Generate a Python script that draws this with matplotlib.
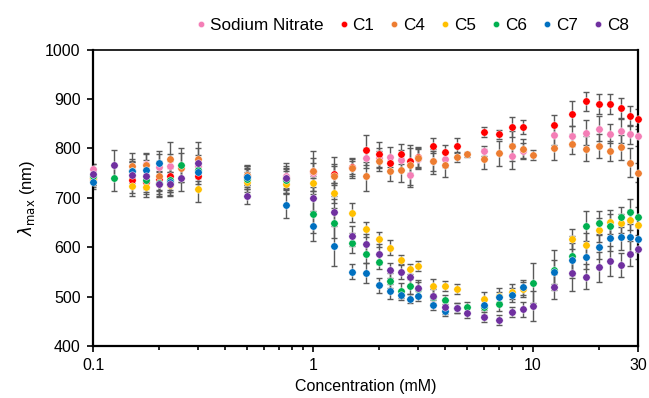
import numpy as np
import matplotlib
matplotlib.use('Agg')
import matplotlib.pyplot as plt
from matplotlib.ticker import LogLocator, FixedLocator, NullFormatter

plt.rcParams['font.family'] = ['Liberation Sans', 'DejaVu Sans']

n = np.nan
conc = [0.1, 0.125, 0.15, 0.175, 0.2, 0.225, 0.25, 0.3, 0.5, 0.75,
        1.0, 1.25, 1.5, 1.75, 2.0, 2.25, 2.5, 2.75, 3.0, 3.5,
        4.0, 4.5, 5.0, 6.0, 7.0, 8.0, 9.0, 10.0, 12.5, 15.0,
        17.5, 20.0, 22.5, 25.0, 27.5, 30.0]

sodium_nitrate = [758, n, 757, 768, 763, 764, n, 765, 745, 745,
                  751, 745, 760, 781, 780, 783, 776, 746, 778, 775,
                  778, n, n, 795, n, 784, 795, n, 826, 825,
                  832, 840, 830, 835, 828, 825]
c1 = [740, n, 735, 732, 738, 745, n, 743, 745, 738,
      755, 749, 763, 797, 788, 770, 788, 775, 782, 805,
      792, 805, n, 833, 828, 843, 843, n, 848, 870,
      895, 890, 890, 882, 866, 860]
c4 = [736, n, 765, 766, 745, 778, 761, 778, 747, 740,
      754, 743, 760, 743, 774, 754, 756, 766, 780, 774,
      766, 783, 788, 778, 790, 805, 798, 786, 801, 808,
      799, 805, 795, 802, 771, 751]
c5 = [740, n, 724, 721, 727, 725, n, 717, 732, 727,
      729, 709, 670, 636, 616, 599, 574, 556, 562, 521,
      521, 515, n, 495, 502, 510, 515, n, n, 616,
      604, 635, 651, 648, 655, 644]
c6 = [745, 739, 754, 736, 729, 736, 766, 757, 738, 735,
      668, 649, 608, 587, 570, 532, 512, 521, 515, 500,
      494, n, 479, 478, 485, n, n, 527, 554, 583,
      643, 649, 643, 661, 672, 662]
c7 = [732, n, 755, 757, 770, 732, n, 753, 741, 685,
      643, 602, 550, 547, 523, 511, 504, 496, 501, 483,
      471, 476, n, 483, 500, 503, 519, n, 550, 573,
      580, 601, 618, 620, 620, 616]
c8 = [749, 767, 747, 743, 727, 728, 739, 770, 703, 740,
      700, 672, 622, 606, 586, 553, 550, 539, 518, 502,
      479, 477, 466, 459, 452, 468, 474, 481, 520, 547,
      540, 560, 572, 564, 587, 596]

# error bar half widths (nm)
err_sn = [10, n, 15, 20, 25, 25, n, 15, 20, 20,
          30, 20, 15, 20, 20, 20, 20, 25, 20, 20,
          15, n, n, 10, n, 25, 15, n, 20, 20,
          25, 25, 20, 25, 20, 20]
err_c1 = [15, n, 25, 25, 25, 30, n, 25, 20, 20,
          15, 20, 15, 30, 25, 15, 20, 25, 20, 15,
          15, 15, n, 10, 10, 20, 15, n, 20, 25,
          20, 20, 20, 20, 20, 20]
err_c4 = [15, n, 25, 25, 30, 35, 30, 35, 20, 20,
          40, 40, 20, 30, 20, 20, 25, 40, 20, 25,
          25, 10, 5, 20, 25, 30, 20, 10, 25, 20,
          25, 25, 20, 25, 30, 20]
err_c5 = [15, n, 20, 20, 20, 20, n, 25, 20, 20,
          15, 20, 20, 15, 15, 15, 10, 10, 10, 15,
          10, 10, n, 15, 15, 15, 15, n, n, 20,
          25, 25, 25, 20, 20, 20]
err_c6 = [15, 25, 25, 25, 25, 25, 35, 30, 20, 20,
          40, 30, 20, 20, 15, 15, 15, 15, 15, 15,
          10, n, 10, 15, 15, n, n, 40, 40, 40,
          30, 25, 25, 20, 25, 20]
err_c7 = [15, n, 20, 20, 25, 20, n, 20, 20, 25,
          30, 40, 15, 20, 15, 15, 10, 10, 10, 10,
          10, 10, n, 10, 10, 15, 15, n, 25, 35,
          25, 25, 25, 25, 30, 25]
err_c8 = [20, 30, 25, 25, 25, 25, 25, 30, 15, 30,
          30, 25, 20, 20, 20, 15, 15, 15, 15, 15,
          15, 10, 10, 10, 10, 10, 15, 30, 25, 35,
          25, 30, 30, 25, 25, 20]

series = [
    ('Sodium Nitrate', sodium_nitrate, err_sn, '#F47EB6'),
    ('C1', c1, err_c1, '#FF0000'),
    ('C4', c4, err_c4, '#ED7D31'),
    ('C5', c5, err_c5, '#FFC000'),
    ('C6', c6, err_c6, '#00B050'),
    ('C7', c7, err_c7, '#0070C0'),
    ('C8', c8, err_c8, '#7030A0'),
]

fig = plt.figure(figsize=(6.49, 3.98), dpi=100)
ax = fig.add_axes([0.1433, 0.1307, 0.8397, 0.7449])

# error bars first, markers on top
for name, vals, err, col in series:
    ax.errorbar(conc, vals, yerr=err, fmt='none', ecolor='#5a5a5a',
                elinewidth=1.0, capsize=2.5, capthick=1.0, zorder=2)
for name, vals, err, col in series:
    ax.plot(conc, vals, 'o', color=col, markersize=5.3, markeredgecolor='white',
            markeredgewidth=0.3, label=name, zorder=3, linestyle='none',
            clip_on=False)

ax.set_xscale('log')
ax.set_xlim(0.1, 30)
ax.set_ylim(400, 1000)
ax.xaxis.set_major_locator(FixedLocator([0.1, 1, 10, 30]))
ax.set_xticklabels(['0.1', '1', '10', '30'])
ax.xaxis.set_minor_locator(LogLocator(base=10, subs=np.arange(2, 10), numticks=20))
ax.xaxis.set_minor_formatter(NullFormatter())
ax.set_yticks(range(400, 1001, 100))

ax.tick_params(axis='both', which='major', direction='out', length=4, width=1.2,
               labelsize=11.5, colors='black', pad=5)
ax.tick_params(axis='x', which='minor', direction='out', length=3, width=1.2)
for side in ['left', 'bottom', 'right']:
    ax.spines[side].set_linewidth(1.6)
ax.spines['top'].set_linewidth(1.2)

ax.set_xlabel('Concentration (mM)', fontsize=11.5)
ax.set_ylabel(r'$\lambda_{\mathrm{max}}$ (nm)', fontsize=12, labelpad=6)

fig.legend(loc='center', bbox_to_anchor=(0.635, 0.935), ncol=7, frameon=False,
           fontsize=12.3, handletextpad=0.18, columnspacing=0.82, markerscale=0.85,
           handlelength=0.7)

fig.savefig('out.png', dpi=100)
